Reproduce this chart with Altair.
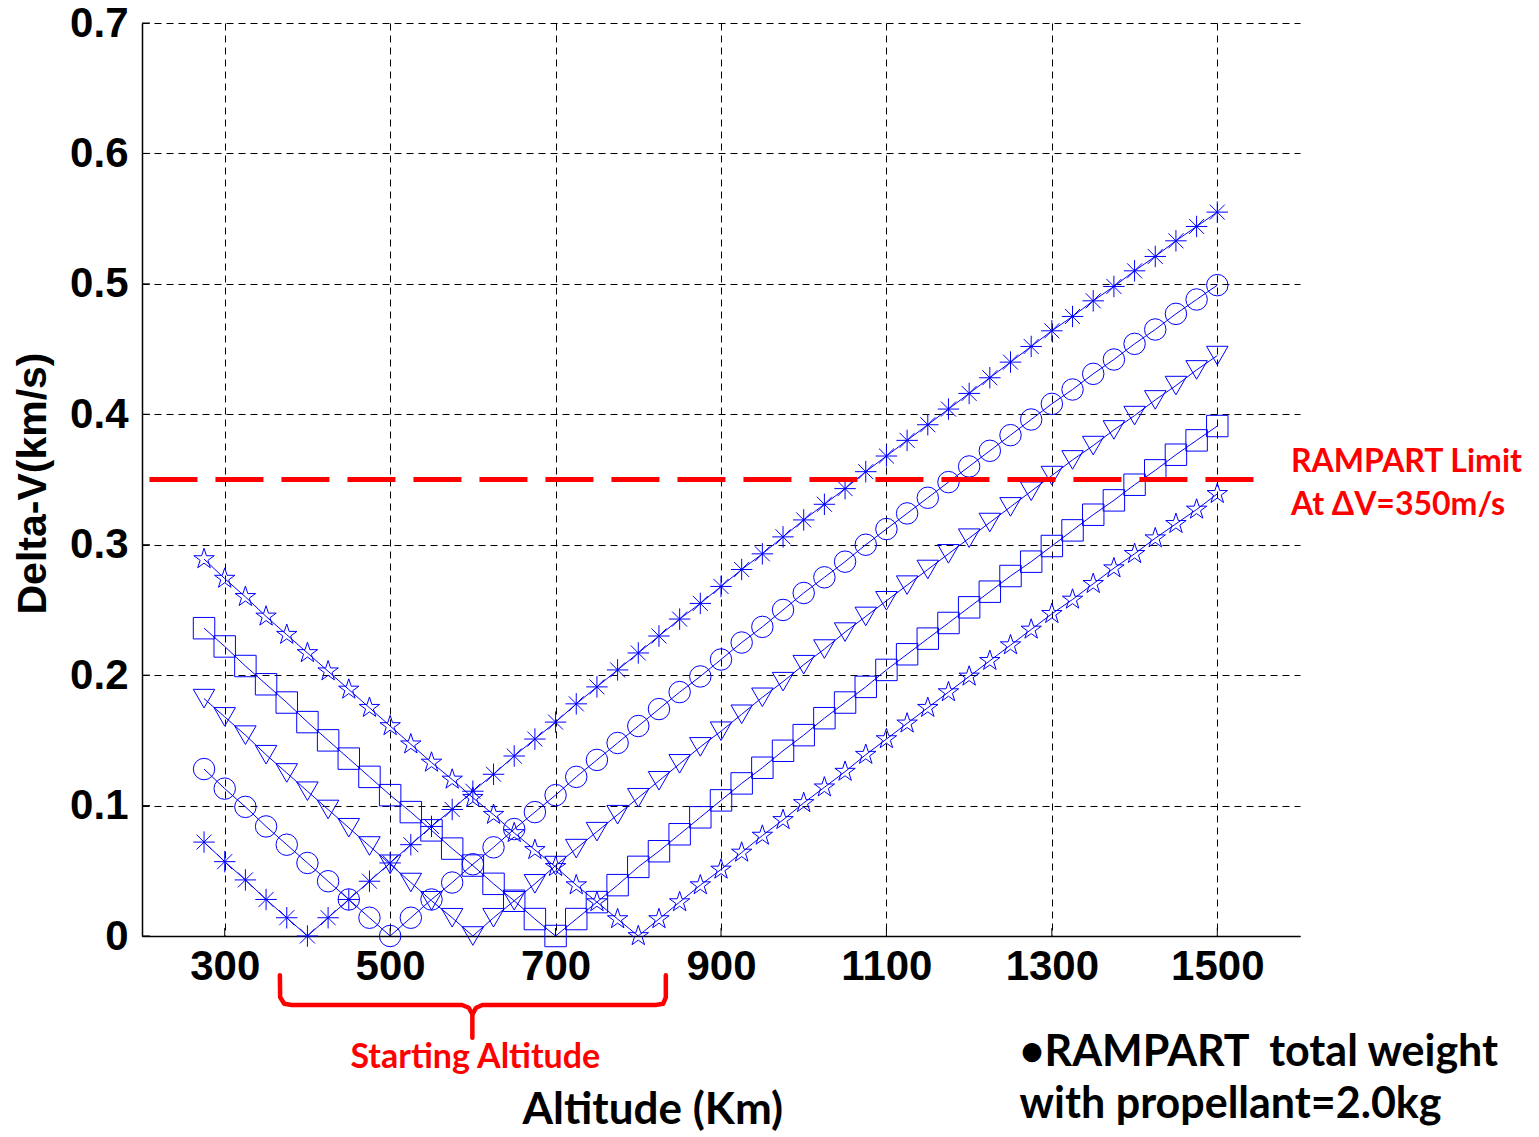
import altair as alt
import pandas as pd

# ---------------- data ----------------
ALT = [275, 300, 325, 350, 375, 400, 425, 450, 475, 500, 525, 550, 575, 600, 625, 650,
       675, 700, 725, 750, 775, 800, 825, 850, 875, 900, 925, 950, 975, 1000, 1025, 1050,
       1075, 1100, 1125, 1150, 1175, 1200, 1225, 1250, 1275, 1300, 1325, 1350, 1375, 1400,
       1425, 1450, 1475, 1500]

DV_400 = [0.072, 0.057, 0.043, 0.028, 0.014, 0.000, 0.014, 0.028, 0.042, 0.056, 0.070, 0.084,
          0.097, 0.111, 0.124, 0.138, 0.151, 0.164, 0.178, 0.191, 0.204, 0.217, 0.230, 0.243,
          0.255, 0.268, 0.281, 0.293, 0.306, 0.319, 0.331, 0.343, 0.356, 0.368, 0.380, 0.392,
          0.404, 0.416, 0.428, 0.440, 0.452, 0.464, 0.475, 0.487, 0.498, 0.510, 0.521, 0.533,
          0.544, 0.555]
DV_500 = [0.128, 0.113, 0.099, 0.084, 0.070, 0.056, 0.042, 0.028, 0.014, 0.000, 0.014, 0.028,
          0.041, 0.055, 0.068, 0.082, 0.095, 0.108, 0.122, 0.135, 0.148, 0.161, 0.174, 0.187,
          0.199, 0.212, 0.225, 0.237, 0.250, 0.263, 0.275, 0.287, 0.300, 0.312, 0.324, 0.336,
          0.348, 0.360, 0.372, 0.384, 0.396, 0.408, 0.419, 0.431, 0.442, 0.454, 0.465, 0.477,
          0.488, 0.499]
DV_600 = [0.182, 0.168, 0.154, 0.139, 0.125, 0.111, 0.097, 0.083, 0.069, 0.055, 0.041, 0.027,
          0.014, 0.000, 0.014, 0.027, 0.040, 0.054, 0.067, 0.080, 0.093, 0.106, 0.119, 0.132,
          0.145, 0.157, 0.170, 0.183, 0.195, 0.208, 0.220, 0.233, 0.245, 0.257, 0.269, 0.281,
          0.293, 0.305, 0.317, 0.329, 0.341, 0.353, 0.365, 0.376, 0.388, 0.399, 0.411, 0.422,
          0.434, 0.445]
DV_700 = [0.236, 0.222, 0.207, 0.193, 0.179, 0.164, 0.150, 0.136, 0.122, 0.108, 0.095, 0.081,
          0.067, 0.054, 0.040, 0.027, 0.013, 0.000, 0.013, 0.026, 0.039, 0.053, 0.065, 0.078,
          0.091, 0.104, 0.117, 0.129, 0.142, 0.154, 0.167, 0.179, 0.191, 0.204, 0.216, 0.228,
          0.240, 0.252, 0.264, 0.276, 0.287, 0.299, 0.311, 0.323, 0.334, 0.346, 0.357, 0.369,
          0.380, 0.391]
DV_800 = [0.289, 0.274, 0.260, 0.245, 0.231, 0.217, 0.203, 0.189, 0.175, 0.161, 0.147, 0.133,
          0.120, 0.106, 0.093, 0.079, 0.066, 0.053, 0.039, 0.026, 0.013, 0.000, 0.013, 0.026,
          0.039, 0.051, 0.064, 0.077, 0.089, 0.102, 0.114, 0.126, 0.139, 0.151, 0.163, 0.175,
          0.187, 0.199, 0.211, 0.223, 0.235, 0.247, 0.258, 0.270, 0.282, 0.293, 0.305, 0.316,
          0.327, 0.339]

SERIES = ["400 km", "500 km", "600 km", "700 km", "800 km"]
SERIES_VALUES = [DV_400, DV_500, DV_600, DV_700, DV_800]

X_TICKS = [300, 500, 700, 900, 1100, 1300, 1500]
Y_TICKS = [0, 0.1, 0.2, 0.3, 0.4, 0.5, 0.6, 0.7]

LIMIT = 0.35
LIMIT_X = [209, 1547]

# brace under the x axis (data units), two halves
BRACE_X = [366.7, 367.0, 372.0, 381.0, 587.0, 595.0, 599.4, 599.4,
           599.4, 604.0, 611.5, 821.0, 830.0, 833.3, 833.3]
BRACE_Y = [-0.030, -0.047, -0.052, -0.0529, -0.0529, -0.055, -0.060, -0.078,
           -0.060, -0.055, -0.0529, -0.0529, -0.052, -0.047, -0.030]
BRACE_G = ["a"] * 8 + ["b"] * 7

# ---------------- shapes ----------------
ASTERISK = "M-1,0L1,0M0,-1L0,1M-0.7,-0.7L0.7,0.7M-0.7,0.7L0.7,-0.7"
STAR = ("M0,-1L0.2245,-0.309L0.9511,-0.309L0.3633,0.118L0.5878,0.809L0,0.382"
        "L-0.5878,0.809L-0.3633,0.118L-0.9511,-0.309L-0.2245,-0.309Z")
SHAPES = [ASTERISK, "circle", "triangle-down", "square", STAR]

rows = []
for s, vals in zip(SERIES, SERIES_VALUES):
    for i, (a, v) in enumerate(zip(ALT, vals)):
        rows.append({"series": s, "alt": a, "dv": v, "idx": i})
df = pd.DataFrame(rows)

BLUE = "#0000FF"
xs = alt.Scale(domain=[200, 1600], nice=False, zero=False)
ys = alt.Scale(domain=[0, 0.7], nice=False, zero=False)

AXFONT = "Liberation Sans"
TXTFONT = "Lato"

x_axis = alt.Axis(values=X_TICKS, format="d", title=None, labelFont=AXFONT,
                  labelFontWeight="bold", labelFontSize=42, labelColor="black",
                  labelPadding=10, ticks=False, grid=True, gridDash=[7, 5],
                  gridColor="black", gridWidth=1, domainColor="black", domainWidth=1.5,
                  labelFlush=False)
y_axis = alt.Axis(values=Y_TICKS, format="~g", title="Delta-V(km/s)", labelFont=AXFONT,
                  labelFontWeight="bold", labelFontSize=42, labelColor="black",
                  labelPadding=14, ticks=False, grid=True, gridDash=[7, 5],
                  gridColor="black", gridWidth=1, domainColor="black", domainWidth=1.5,
                  titleFont=AXFONT, titleFontWeight="bold", titleFontSize=41,
                  titleColor="black", titleAngle=270, titleAlign="center",
                  titleBaseline="alphabetic", titleX=-97, titleY=460, labelFlush=False)

base = alt.Chart(df)

lines = base.mark_line(color=BLUE, strokeWidth=1).encode(
    x=alt.X("alt:Q", scale=xs, axis=x_axis),
    y=alt.Y("dv:Q", scale=ys, axis=y_axis),
    detail="series:N",
    order="idx:Q",
)

points = base.mark_point(filled=False, color=BLUE, strokeWidth=1, size=460, opacity=1).encode(
    x=alt.X("alt:Q", scale=xs),
    y=alt.Y("dv:Q", scale=ys),
    shape=alt.Shape("series:N", scale=alt.Scale(domain=SERIES, range=SHAPES), legend=None),
)

# inward ticks
ytick_df = pd.DataFrame({"v": Y_TICKS})
yticks = alt.Chart(ytick_df).mark_rule(color="black", strokeWidth=1).encode(
    y=alt.Y("v:Q", scale=ys), x=alt.value(0), x2=alt.value(8))
xtick_df = pd.DataFrame({"v": X_TICKS})
xticks = alt.Chart(xtick_df).mark_rule(color="black", strokeWidth=1).encode(
    x=alt.X("v:Q", scale=xs), y=alt.value(913), y2=alt.value(905))

limit_df = pd.DataFrame({"x": [LIMIT_X[0]], "x2": [LIMIT_X[1]], "y": [LIMIT]})
limit = alt.Chart(limit_df).mark_rule(color="#FF0000", strokeWidth=5, strokeDash=[48, 18]).encode(
    x=alt.X("x:Q", scale=xs), x2="x2:Q", y=alt.Y("y:Q", scale=ys))

brace_df = pd.DataFrame({"x": BRACE_X, "y": BRACE_Y, "g": BRACE_G,
                         "o": list(range(len(BRACE_X)))})
brace = alt.Chart(brace_df).mark_line(color="#FF0000", strokeWidth=4.5, strokeCap="round",
                                      strokeJoin="round", clip=False).encode(
    x=alt.X("x:Q", scale=xs), y=alt.Y("y:Q", scale=ys), detail="g:N", order="o:Q")

# annotations
red_df = pd.DataFrame({
    "x": [1589, 1589],
    "y": [0.3557, 0.3228],
    "t": ["RAMPART Limit", "At \u0394V=350m/s"],
})
red_txt = alt.Chart(red_df).mark_text(color="#FF0000", font=TXTFONT, fontWeight="bold",
                                      fontSize=32, align="left", baseline="alphabetic").encode(
    x=alt.X("x:Q", scale=xs), y=alt.Y("y:Q", scale=ys), text="t:N")

start_df = pd.DataFrame({"x": [603], "y": [-0.1012], "t": ["Starting Altitude"]})
start_txt = alt.Chart(start_df).mark_text(color="#FF0000", font=TXTFONT, fontWeight="bold",
                                          fontSize=34, align="center", baseline="alphabetic").encode(
    x=alt.X("x:Q", scale=xs), y=alt.Y("y:Q", scale=ys), text="t:N")

xt_df = pd.DataFrame({"x": [817.6], "y": [-0.1441], "t": ["Altitude (Km)"]})
xt_txt = alt.Chart(xt_df).mark_text(color="black", font=TXTFONT, fontWeight="bold",
                                    fontSize=44, align="center", baseline="alphabetic").encode(
    x=alt.X("x:Q", scale=xs), y=alt.Y("y:Q", scale=ys), text="t:N")

note_df = pd.DataFrame({"x": [1261, 1261], "y": [-0.0997, -0.1395],
                        "t": ["\u2022RAMPART\u00a0\u00a0total weight", "with propellant=2.0kg"]})
note_txt = alt.Chart(note_df).mark_text(color="black", font=TXTFONT, fontWeight="bold",
                                        fontSize=43, align="left", baseline="alphabetic").encode(
    x=alt.X("x:Q", scale=xs), y=alt.Y("y:Q", scale=ys), text="t:N")

chart = alt.layer(lines, points, yticks, xticks, limit, brace, red_txt, start_txt,
                  xt_txt, note_txt).properties(
    width=1158, height=913,
    autosize=alt.AutoSizeParams(type="none"),
    padding={"left": 134, "top": 15, "right": 231, "bottom": 203},
    background="white",
).configure_view(stroke=None)

chart.save("out.html", embed_options={"renderer": "svg", "actions": False})
